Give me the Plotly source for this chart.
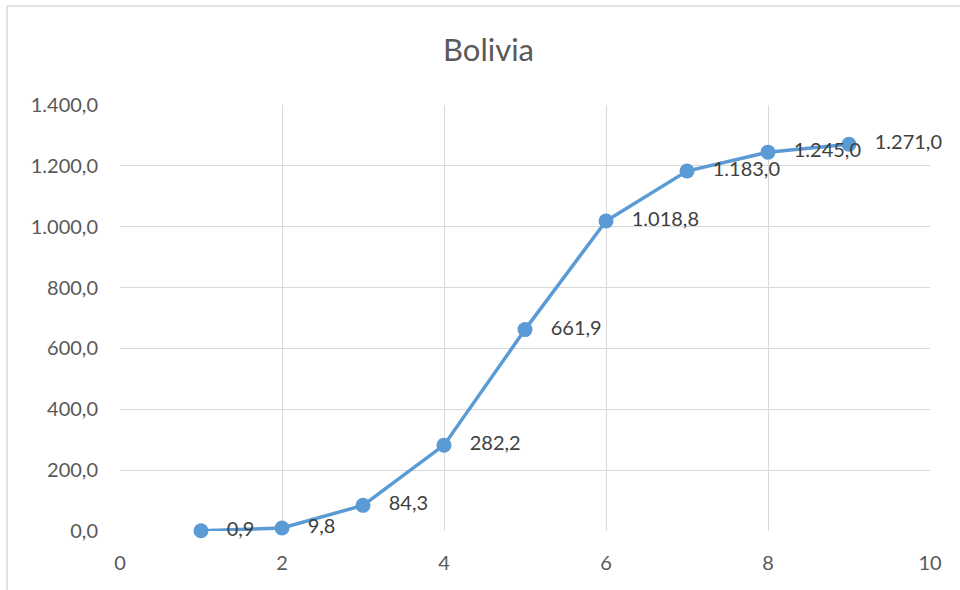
import plotly.graph_objects as go

x_vals = [1, 2, 3, 4, 5, 6, 7, 8, 9]
y_vals = [0.9, 9.8, 84.3, 282.2, 661.9, 1018.8, 1183.0, 1245.0, 1271.0]
title_text = "Bolivia"

def fmt(v):
    s = f"{v:,.1f}"
    return s.replace(",", "X").replace(".", ",").replace("X", ".")

labels = ["\u00a0\u00a0\u00a0" + fmt(v) for v in y_vals]

FONT = "Lato"
GREY = "#595959"
BLUE = "#5B9BD5"

fig = go.Figure()
fig.add_trace(go.Scatter(
    x=x_vals, y=y_vals, mode="lines+markers+text",
    text=labels, textposition="middle right",
    textfont=dict(family=FONT, size=20, color="#404040"),
    line=dict(color=BLUE, width=3.5),
    marker=dict(color=BLUE, size=15),
    cliponaxis=False,
    showlegend=False,
    hoverinfo="skip",
))

L, R, T, B = 120, 30, 105, 59
W, H = 960, 590
pw, ph = W - L - R, H - T - B
px = lambda p: (p - L) / pw
py = lambda p: (H - B - p) / ph

fig.update_layout(
    width=W, height=H,
    margin=dict(l=L, r=R, t=T, b=B),
    paper_bgcolor="white", plot_bgcolor="white",
    separators=",.",
    title=dict(text=title_text, x=488.5 / W, xanchor="center", y=1 - 50 / H, yanchor="middle",
               font=dict(family=FONT, size=31, color=GREY)),
    xaxis=dict(range=[0, 10], dtick=2, tick0=0, showgrid=True, gridcolor="#D9D9D9",
               gridwidth=1.3, zeroline=False, showline=False, ticks="",
               tickfont=dict(family=FONT, size=20, color=GREY), ticklabelstandoff=18),
    yaxis=dict(range=[0, 1400], dtick=200, tickformat=",.1f", showgrid=True,
               gridcolor="#D9D9D9", gridwidth=1.3, zeroline=False, showline=False, ticks="",
               tickfont=dict(family=FONT, size=20, color=GREY), ticklabelstandoff=21),
    shapes=[
        dict(type="line", xref="paper", yref="paper", x0=px(7), x1=px(W + 5), y0=py(6), y1=py(6),
             line=dict(color="#D9D9D9", width=1.5)),
        dict(type="line", xref="paper", yref="paper", x0=px(7), x1=px(7), y0=py(6), y1=py(H + 5),
             line=dict(color="#D9D9D9", width=1.5)),
    ],
)

fig.write_html("out.html", config={"displayModeBar": False},
               post_script="document.body.style.margin='0';document.body.style.overflow='hidden';")
